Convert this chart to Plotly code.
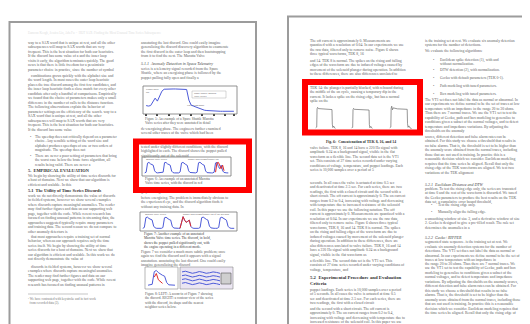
import plotly.graph_objects as go

W, H = 530, 324

# ---------------- data ----------------
# Left page, Figure 5: Space Shuttle Marotta Valve series
marotta_t = list(range(40))
marotta_v = [0.30, 0.28, 0.30, 0.45, 0.60, 0.48, 0.66, 0.88, 0.96, 0.97,
             0.97, 0.97, 0.97, 0.97, 0.97, 0.97, 0.96, 0.96, 0.95, 0.52,
             0.32, 0.28, 0.24, 0.20, 0.16, 0.13, 0.11, 0.10, 0.09, 0.08,
             0.08, 0.07, 0.07, 0.07, 0.07, 0.07, 0.07, 0.07, 0.07, 0.07]
marotta_ticks = [0, 5, 10, 15, 20, 25, 30, 35, 39]

# Left page, Figure 6: annotated Marotta Valve series (discord in red)
valve6_t = list(range(60))
valve6_v = [0.15, 0.20, 0.85, 0.90, 0.80, 0.75, 0.70, 0.30, 0.18, 0.15, 0.15, 0.15,
            0.15, 0.20, 0.88, 0.90, 0.80, 0.74, 0.70, 0.28, 0.17, 0.15, 0.15, 0.15,
            0.15, 0.22, 0.86, 0.90, 0.80, 0.75, 0.69, 0.30, 0.18, 0.16, 0.15, 0.15,
            0.15, 0.20, 0.87, 0.91, 0.81, 0.74, 0.70, 0.29, 0.17, 0.15, 0.15, 0.15,
            0.15, 0.20, 0.86, 0.90, 0.60, 0.45, 0.70, 0.30, 0.18, 0.15, 0.15, 0.15]
valve6_discord_t = [50, 51, 52, 53, 54, 55, 56]
valve6_discord_v = [0.20, 0.86, 0.90, 0.60, 0.45, 0.70, 0.30]

# Left page, Figure 7: further Marotta Valve series
valve7_t = list(range(60))
valve7_v = [0.12, 0.18, 0.88, 0.92, 0.82, 0.76, 0.72, 0.28, 0.15, 0.12, 0.12, 0.12,
            0.12, 0.18, 0.87, 0.91, 0.81, 0.75, 0.71, 0.27, 0.14, 0.12, 0.12, 0.12,
            0.12, 0.50, 0.95, 0.70, 0.55, 0.62, 0.70, 0.26, 0.14, 0.12, 0.12, 0.12,
            0.12, 0.18, 0.88, 0.92, 0.81, 0.76, 0.71, 0.28, 0.15, 0.12, 0.12, 0.12,
            0.12, 0.19, 0.87, 0.91, 0.82, 0.75, 0.70, 0.27, 0.15, 0.12, 0.12, 0.12]
valve7_discord_t = [24, 25, 26, 27, 28, 29, 30, 31]
valve7_discord_v = [0.12, 0.50, 0.95, 0.70, 0.55, 0.62, 0.70, 0.26]

# Left page, Figure 8: zoom-in (left) and contour view (right)
zoom8_t = list(range(14))
zoom8_v = [0.10, 0.12, 0.15, 0.85, 0.92, 0.80, 0.70, 0.65, 0.60, 0.25, 0.12, 0.10, 0.10, 0.10]
zoom8_red_t = [3, 4, 5, 6, 7]
zoom8_red_v = [0.55, 0.75, 0.40, 0.30, 0.20]
wave8_t = list(range(12))
wave8_a = [0.88, 0.92, 0.86, 0.80, 0.84, 0.90, 0.86, 0.80, 0.83, 0.88, 0.85, 0.80]
wave8_b = [0.66, 0.70, 0.64, 0.58, 0.62, 0.68, 0.64, 0.58, 0.61, 0.66, 0.63, 0.58]
wave8_c = [0.44, 0.48, 0.42, 0.36, 0.40, 0.46, 0.42, 0.36, 0.39, 0.44, 0.41, 0.36]
wave8_d = [0.22, 0.26, 0.20, 0.14, 0.18, 0.24, 0.20, 0.14, 0.17, 0.22, 0.19, 0.14]

# Right page, Fig. 6: concatenation of TEK 8, 16 and 14
tek8_t = [5, 6, 6.3, 6.8, 7.5, 10, 14, 18, 20, 20.3, 20.8, 21.5, 22.3, 23]
tek8_v = [0.05, 0.08, 0.84, 0.90, 0.85, 0.84, 0.83, 0.82, 0.81, 0.20, 0.06, 0.12, 0.04, 0.02]
tek16_t = [38, 39, 39.3, 39.8, 40.5, 44, 48, 52, 54, 54.3, 54.8, 55.6, 56.4, 57]
tek16_v = [0.05, 0.07, 0.80, 0.86, 0.82, 0.81, 0.80, 0.80, 0.79, 0.18, 0.05, 0.11, 0.03, 0.02]
tek14_t = [73, 74, 74.3, 74.8, 75.5, 76.2, 80, 85, 89, 89.3, 89.8, 90.6, 91.5, 93]
tek14_v = [0.05, 0.08, 0.86, 0.95, 0.80, 0.88, 0.84, 0.83, 0.82, 0.22, 0.07, 0.13, 0.05, 0.02]

# ---------------- text of the two pages ----------------
LEFT_A = ("way to a SAX word that is unique at rest, and all the other subsequences will map to SAX words "
          "that are very frequent. This is the best situation for both our heuristics. If the discord has "
          "some value of a and the inner loop visits it early, the algorithm terminates quickly. The good news "
          "is that there is little freedom for a pessimistic parameter choice in practice, since the number of "
          "symbol combinations grows quickly with the alphabet size and the word length. In most cases the "
          "outer loop heuristic places the true discord among the first few candidates, and the inner loop "
          "heuristic finds a close match for every other candidate after only a handful of comparisons. "
          "Empirically we found that the choice of parameters makes only a small difference in the number of "
          "calls to the distance function. The following observations explain the behavior of parameter "
          "settings on the efficiency of the search. ")
LEFT_A_B1 = ("The speedup does not critically depend on a parameter choice. Any sensible setting of the word "
             "size and alphabet produces speedups of one or two orders of magnitude. ")
LEFT_A_B2 = ("There are never a poor setting of parameters that bring the worst case below the brute force "
             "algorithm, all results being valid. ")
LEFT_A2 = ("We begin by showing the utility of time series discords for a host of domains. Next we show that our "
           "algorithm is efficient and scalable. In this work we do not directly demonstrate the value of "
           "discords in fielded systems, however we show several examples where discords capture meaningful "
           "anomalies. The reader may find further figures and data on our supporting web page, together with "
           "the code. While recent research has focused on finding unusual patterns in streaming data, the "
           "approaches suggested typically require many parameters and training data. The second reason we do "
           "not compare to other anomaly detectors is that most approaches require a training set of normal "
           "behavior, whereas our approach requires only the time series itself. ")
LEFT_B = ("annotating the last discord. One could easily imagine generalizing the discord discovery algorithm "
          "to enumerate the first discord in the outer loop and then bootstrapping from it to find the next. "
          "The Marotta Valve series is a telemetry signal recorded from the Space Shuttle, where an energizing "
          "phase is followed by the poppet pulling fully open and finally a de-energizing phase. The engineers "
          "further examined several other traces of the valve which had been tested under slightly different "
          "conditions, with the discord highlighted in each. The discord shows the poppet pulled significantly "
          "out of the solenoid before energizing. The problem is immediately obvious to the experienced eye, "
          "and the discord algorithm finds it without any training data. In Figure 7 we consider a much more "
          "subtle problem; once again we find the discord and it appears with a signal annotation. ")
RIGHT_C = ("The off current is approximately 0. Measurements are quantized with a resolution of 0.04. In our "
           "experiments we use the raw data, filtered only to remove noise. Figure 6 shows three typical "
           "waveforms, TEK 8, 16 and 14. TEK 8 is normal. The spikes on the rising and falling edges of the "
           "waveform are due to induced voltages caused by movement of the solenoid plunger during operation. "
           "In addition to these differences, there are also differences unrelated to valve failure. TEK 8, "
           "16 and 14 have a 220 Hz signal with amplitude 0.24 as a background signal, visible in the flat "
           "waveform as a flexible line. The second data set is the VT1 set. This consists of 27 time series "
           "recorded under varying conditions of voltage, temperature, and poppet loadings. Each series is "
           "10,000 samples over a period of 5 seconds. In all cases the valve is actuated at time 0.5 sec and "
           "deactivated at time 2.5 sec. For each series, there are two readings, the first with a closed "
           "circuit and the second with a short circuit. The off current is approximately 0. The on current "
           "ranges from 0.2 to 0.4, increasing with voltage and decreasing with temperature due to increased "
           "resistance of the solenoid coil. In this paper we use the following notation. ")
RIGHT_C_RED = ("TEK 14: the plunger is partially blocked, with rebound during the middle of the on cycle, "
               "causing a temporary dip in the current. It lacks a spike on the rising edge, but has a normal "
               "spike on the falling edge. ")
RIGHT_D = ("is the training set at rest. We evaluate six anomaly detection systems for the number of detections. "
           "The VT1 set does not label the data as normal or abnormal. In our experiments we define normal to "
           "be the set of traces at low temperature with an impedance in the range 20 to 30 ohms. Thus there are "
           "7 normal traces. We use the VT1 set to test the capability of Gecko, path and box modeling to "
           "generalize to conditions given a subset of the normal voltages, and to detect temperature and "
           "impedance variations. By adjusting the thresholds on the anomaly scores, different detection and "
           "false alarm rates can be obtained. For this study we choose a threshold that results in no false "
           "alarms. That is, the threshold is set to be higher than the anomaly score obtained from the normal "
           "traces, including those that are not used in training. In practice this is a reasonable decision "
           "which we consider. Euclidean modeling requires that the time series be aligned. Recall that only "
           "the rising edge of the TEK waveforms are aligned. We test two variations of the TEK alignment "
           "problem. To test the rising edge only, the series are truncated at time 0 and the rest of the "
           "waveform is discarded. We tuned the Gecko parameters to produce the best results on the TEK data "
           "set, a cumulative error bound threshold, a smoothing window of size 3, and a derivative window "
           "of size 2. Gecko is designed to give a pre-filled result. The rule set determines the anomalies "
           "in a segmented state sequence. ")
BULLETS_D = ["Euclidean spike detection (1), with and",
             "DTW detection (2), with normalization.",
             "Gecko with default parameters (TEK 0-1).",
             "Path modeling with tuned parameters.",
             "Box modeling with tuned parameters."]
BULLETS_D2 = ["Test the rising edge only.", "Manually align the falling edge."]

# ---------------- text layout helpers ----------------
FS = 3.75          # body font size
LS = 4.5           # line spacing
KW = 1.1           # measured width correction of tiny rendered text
NARROW = set("iljtfr.,;:'!|()- ")
WIDE = set("mwMW")


def char_w(c, s):
    if c in NARROW:
        f = 0.29
    elif c in WIDE:
        f = 0.74
    elif c.isupper():
        f = 0.66
    elif c.isdigit():
        f = 0.50
    else:
        f = 0.46
    return f * s * KW


def text_w(t, s):
    return sum(char_w(c, s) for c in t)


class Stream:
    def __init__(self, text):
        self.words = text.split()
        self.i = 0

    def peek(self):
        return self.words[self.i % len(self.words)]

    def take(self):
        self.i += 1


def fill_line(stream, width, s):
    line, w = "", 0.0
    while True:
        word = stream.peek()
        ww = text_w(word, s)
        sp = char_w(" ", s) if line else 0
        if line and w + sp + ww > width:
            break
        line += (" " if line else "") + word
        w += sp + ww
        stream.take()
    return line


layers = {}


def put(style, x, y, t):
    layers.setdefault(style, ([], [], []))
    xs, ys, ts = layers[style]
    xs.append(x)
    ys.append(y)
    ts.append(t)


def para(stream, x, y, width, n, style="body", s=FS, indent=3, last=0.6, ls=LS):
    for k in range(n):
        wid = width - (indent if k == 0 else 0)
        if k == n - 1:
            wid = width * last
        put(style, x + (indent if k == 0 else 0), y + k * ls, fill_line(stream, wid, s))
    return y + n * ls


def bullet(stream, x, y, width, n, style="body", ind=7):
    put(style, x + 2, y, "•")
    return para(stream, x + ind, y, width - ind, n, style=style, indent=0, last=0.7)


# ---------------- left page ----------------
sA = Stream(LEFT_A)
put("faint", 20, 25, "Eamonn Keogh, Jessica Lin, Ada Fu  -  HOT SAX: Finding the Most Unusual Time Series Subsequence")
para(sA, 20, 35, 98, 7, indent=0, last=1.0)
para(sA, 20, 68, 98, 13, last=0.55)
bullet(Stream(LEFT_A_B1), 20, 129, 98, 4)
bullet(Stream(LEFT_A_B2), 20, 148, 98, 3)
put("head", 20, 163, "<b>5.  EMPIRICAL EVALUATION</b>")
sA2 = Stream(LEFT_A2)
para(sA2, 20, 168, 98, 3, indent=0)
put("head", 20, 183, "<b>5.1  The Utility of Time Series Discords</b>")
para(sA2, 20, 188, 98, 9, indent=0, last=0.5)
para(sA2, 20, 229, 98, 6, last=0.7)
para(sA2, 20, 259, 98, 5, last=1.0)
put("foot", 20, 291, "¹ We have contrasted with keystroke and in fact work")
put("foot", 20, 295.5, "  from recorded data (2).")

sB = Stream(LEFT_B)
para(sB, 133, 35, 98, 4, indent=0, last=0.75)
put("ital", 133, 56, "<i>5.1.1  Anomaly Detection in Space Telemetry</i>")
para(sB, 133, 61, 98, 3, indent=0, last=0.7)
put("cap", 137, 111, "Figure 5: An example of a Space Shuttle Marotta")
put("cap", 137, 115, "Valve series after they were annotated in detail")
para(sB, 133, 121, 98, 2, indent=0, last=0.9)
para(sB, 133, 139, 98, 3, indent=0, last=0.6)
put("cap", 137, 171, "Figure 6: An example of an annotated Marotta")
put("cap", 137, 175, "Valve time series, with the discord in red")
put("body", 133, 184, "graphical signal annotation.")
para(sB, 133, 190, 98, 3, indent=0, last=0.6)
put("capb", 136, 226, "Figure 7: Another example of an annotated")
put("capb", 136, 230.5, "Marotta Valve time series. The discord, in bold,")
put("capb", 136, 235, "shows the poppet pulled significantly out, with")
put("capb", 136, 239.5, "the engine operating in a different mode.")
para(sB, 133, 244, 98, 4, indent=0, last=0.65)
put("cap", 137, 286, "Figure 8: LEFT: A zoom-in of Figure 7 showing")
put("cap", 137, 290.5, "the discord. RIGHT: a contour view of the series")
put("cap", 137, 295, "with the discord, its shape and the nearest")
put("cap", 137, 299.5, "neighbor series below.")

# figure labels (left page)
put("lab", 138, 81.5, "Poppet pulls")
put("lab", 138, 84, "out")
put("lab", 186, 85, "Space Shuttle Marotta")
put("lab", 186, 88, "Valve Series")
put("lab", 179, 97, "Energizing phase")
put("lab", 138, 151.5, "Marotta Valve Series")
put("lab", 180, 151.5, "poppet pulled significantly out")
put("lab", 137, 206.5, "Marotta Valve Series")
put("lab", 175, 206.5, "poppet pulled significantly out of the solenoid")

# ---------------- right page ----------------
sC = Stream(RIGHT_C)
para(sC, 302, 33, 105, 4, indent=0, last=0.6)
para(sC, 302, 53, 105, 4, indent=0, last=1.0)
para(Stream(RIGHT_C_RED), 302, 80, 105, 4, indent=0, last=0.3)
put("capb_c", 353, 134.5, "<b>Fig. 6:  Concatenation of TEK 8, 16, and 14</b>")
para(sC, 302, 140, 105, 6, indent=0, last=0.8)
para(sC, 302, 175, 105, 17, indent=0, last=0.6)
para(sC, 302, 253, 105, 3, indent=0, last=0.5)
put("head2", 302, 270, "<b>5.2  Experimental Procedure and Evaluation</b>")
put("head2", 302, 275.5, "<b>Criteria</b>")
para(sC, 302, 282, 105, 4, indent=0, last=0.7)
para(sC, 302, 301, 105, 4, indent=0, last=1.0)

sD = Stream(RIGHT_D)
para(sD, 417, 33, 105, 2, indent=0, last=0.65)
put("body", 417, 43, "We evaluate the following algorithms:")
by = [52, 62, 70, 78, 86]
for k, b in enumerate(BULLETS_D):
    put("body", 425, by[k], "•")
    put("body", 432, by[k], b)
put("body", 432, 56.5, "without normalization.")
para(sD, 417, 92, 105, 8, indent=0, last=0.5)
para(sD, 417, 129, 105, 9, indent=0, last=0.6)
put("ital", 417, 177, "<i>5.2.1  Euclidean Distance and DTW</i>")
para(sD, 417, 181, 105, 4, indent=0, last=0.7)
for k, b in enumerate(BULLETS_D2):
    put("body", 423, 197 + 7 * k, "•")
    put("body", 430, 197 + 7 * k, b)
para(sD, 417, 211, 105, 3, indent=0, last=0.5)
put("ital", 417, 230, "<i>5.2.2  Gecko+RIPPER</i>")
para(sD, 417, 234.5, 105, 5, indent=0, last=0.8)
para(sD, 417, 256, 105, 12, indent=0, last=1.0)

STYLES = {
    "body": dict(size=FS, color="#5e5e5e", pos="middle right"),
    "faint": dict(size=3.2, color="#dddddd", pos="middle right"),
    "head": dict(size=4.4, color="#333333", pos="middle right"),
    "head2": dict(size=4.8, color="#333333", pos="middle right"),
    "ital": dict(size=4.0, color="#444444", pos="middle right"),
    "cap": dict(size=3.5, color="#555555", pos="middle right"),
    "capb": dict(size=3.5, color="#3a3a3a", pos="middle right"),
    "capb_c": dict(size=3.8, color="#333333", pos="middle center"),
    "foot": dict(size=3.2, color="#777777", pos="middle right"),
    "lab": dict(size=2.5, color="#444444", pos="middle right"),
}

fig = go.Figure()
for name, (xs, ys, ts) in layers.items():
    st = STYLES[name]
    fig.add_trace(go.Scatter(x=xs, y=ys, text=ts, mode="text", textposition=st["pos"],
                             textfont=dict(family="Liberation Serif", size=st["size"], color=st["color"]),
                             hoverinfo="skip", showlegend=False, cliponaxis=False))


# ---------------- inset plots ----------------
def inset(n, px0, py0, px1, py1, xr, yr):
    fig.update_layout({
        f"xaxis{n}": dict(domain=[px0 / W, px1 / W], range=xr, visible=False, anchor=f"y{n}", fixedrange=True),
        f"yaxis{n}": dict(domain=[1 - py1 / H, 1 - py0 / H], range=yr, visible=False, anchor=f"x{n}", fixedrange=True),
    })
    return f"x{n}", f"y{n}"


BLUE = "#4d5bd9"
RED = "#e02a2a"

xa, ya = inset(2, 137, 79, 227, 105, [-0.5, 39.5], [0, 1.05])
fig.add_trace(go.Scatter(x=marotta_t, y=marotta_v, mode="lines", line=dict(color=BLUE, width=1),
                         xaxis=xa, yaxis=ya, hoverinfo="skip", showlegend=False))
fig.update_layout(xaxis2=dict(visible=True, showgrid=False, zeroline=False, showline=False,
                              showticklabels=False, tickvals=marotta_ticks, ticks="outside",
                              ticklen=2, tickwidth=1.5, tickcolor="#444"))

xa, ya = inset(3, 136, 153, 221, 167, [-0.5, 59.5], [0, 1.0])
fig.add_trace(go.Scatter(x=valve6_t, y=valve6_v, mode="lines", line=dict(color=BLUE, width=1),
                         xaxis=xa, yaxis=ya, hoverinfo="skip", showlegend=False))
fig.add_trace(go.Scatter(x=valve6_discord_t, y=valve6_discord_v, mode="lines", line=dict(color=RED, width=1),
                         xaxis=xa, yaxis=ya, hoverinfo="skip", showlegend=False))

xa, ya = inset(4, 134, 208, 227, 222, [-0.5, 59.5], [0, 1.0])
fig.add_trace(go.Scatter(x=valve7_t, y=valve7_v, mode="lines", line=dict(color=BLUE, width=1),
                         xaxis=xa, yaxis=ya, hoverinfo="skip", showlegend=False))
fig.add_trace(go.Scatter(x=valve7_discord_t, y=valve7_discord_v, mode="lines", line=dict(color=RED, width=1),
                         xaxis=xa, yaxis=ya, hoverinfo="skip", showlegend=False))

xa, ya = inset(5, 139, 261, 168, 279, [-0.5, 13.5], [0, 1.0])
fig.add_trace(go.Scatter(x=zoom8_t, y=zoom8_v, mode="lines", line=dict(color=BLUE, width=1),
                         xaxis=xa, yaxis=ya, hoverinfo="skip", showlegend=False))
fig.add_trace(go.Scatter(x=zoom8_red_t, y=zoom8_red_v, mode="lines", line=dict(color=RED, width=1),
                         xaxis=xa, yaxis=ya, hoverinfo="skip", showlegend=False))

xa, ya = inset(6, 174, 261, 212, 279, [0, 11], [0, 1.05])
for wv in (wave8_a, wave8_b, wave8_c, wave8_d):
    fig.add_trace(go.Scatter(x=wave8_t, y=wv, mode="lines", line=dict(color=BLUE, width=1),
                             xaxis=xa, yaxis=ya, hoverinfo="skip", showlegend=False))

xa, ya = inset(7, 300, 97, 409, 121, [-2, 98], [0, 1.0])
for tt, vv in ((tek8_t, tek8_v), (tek16_t, tek16_v), (tek14_t, tek14_v)):
    fig.add_trace(go.Scatter(x=tt, y=vv, mode="lines", line=dict(color="#6a6a6a", width=0.7),
                             xaxis=xa, yaxis=ya, hoverinfo="skip", showlegend=False))

# ---------------- page frames, figure boxes, highlight boxes ----------------
shapes = [
    dict(type="rect", x0=1.5, y0=14, x1=248, y1=334, line=dict(color="#9c9c9c", width=2)),
    dict(type="rect", x0=280, y0=8.5, x1=540, y1=334, line=dict(color="#9c9c9c", width=2)),
    dict(type="rect", x0=135, y0=78, x1=229, y1=106, line=dict(color="#777", width=0.8)),
    dict(type="rect", x0=184, y0=83, x1=218, y1=90, line=dict(color="#999", width=0.4)),
    dict(type="rect", x0=134, y0=149, x1=223, y1=168, line=dict(color="#777", width=0.8)),
    dict(type="rect", x0=132, y0=204, x1=229, y1=223, line=dict(color="#777", width=0.8)),
    dict(type="rect", x0=137, y0=259, x1=170, y1=281, line=dict(color="#888", width=0.6)),
    dict(type="rect", x0=172, y0=259, x1=225, y1=281, fillcolor="#ebe6f2",
         line=dict(color="#888", width=0.6), layer="below"),
    dict(type="rect", x0=213, y0=265, x1=223, y1=276, fillcolor="#cfcfcf",
         line=dict(color="#555", width=0.6)),
    dict(type="line", x0=20, y0=286, x1=80, y1=286, line=dict(color="#888", width=0.5)),
    dict(type="rect", x0=128, y0=133.5, x1=241, y1=182, line=dict(color="#ff0000", width=6), layer="above"),
    dict(type="rect", x0=297, y0=74, x1=412, y1=124.5, line=dict(color="#ff0000", width=6), layer="above"),
]
fig.update_layout(shapes=shapes)

fig.update_layout(
    width=W, height=H, margin=dict(l=0, r=0, t=0, b=0),
    paper_bgcolor="white", plot_bgcolor="rgba(0,0,0,0)",
    xaxis=dict(domain=[0, 1], range=[0, W], visible=False, fixedrange=True),
    yaxis=dict(domain=[0, 1], range=[H, 0], visible=False, fixedrange=True),
    showlegend=False,
)

fig.write_html("out.html")
